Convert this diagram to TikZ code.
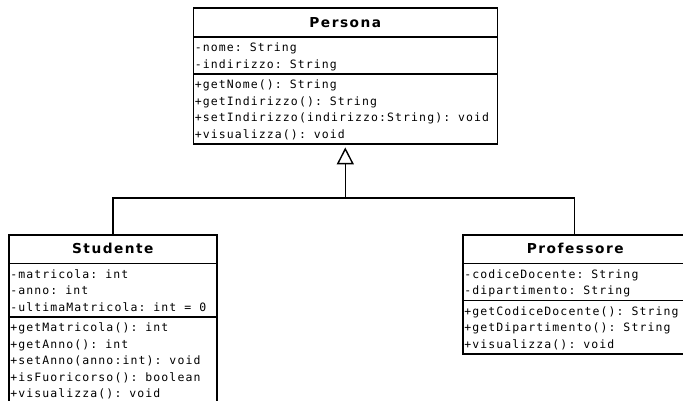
\documentclass[tikz,border=0pt]{standalone}
\usepackage{fontspec}
\setmainfont{DejaVu Sans}
\newfontfamily\umlmono[LetterSpace=9.5]{DejaVu Sans Mono}
\newfontfamily\umltitle[LetterSpace=11]{DejaVu Sans}
\usetikzlibrary{shapes.multipart}
\usetikzlibrary{arrows.meta}

% body font, one blank, one line of a class box, one title
\newcommand{\umlbody}{\umlmono\fontsize{11.5pt}{16.5pt}\selectfont}
\newcommand{\gap}{\hspace*{8pt}}
\newcommand{\ls}{\rule[-3.75pt]{0pt}{16.5pt}}
\newcommand{\ctitle}[1]{\hbox to \hsize{\hss\umltitle\bfseries\fontsize{13.7pt}{16pt}\selectfont\rule[-7.5pt]{0pt}{24.5pt}#1\hss}}

\tikzset{
  umlclass/.style={rectangle split, rectangle split parts=3, draw, line width=1.6pt,
    inner xsep=1.5pt, inner ysep=1.25pt, anchor=north west, align=left, font=\umlbody},
  extends/.style={line width=1.4pt, -{Triangle[open, length=17pt, width=17pt, fill=white]}, shorten >=2.5pt}
}

\begin{document}
\begin{tikzpicture}[x=1pt, y=-1pt]
\useasboundingbox (0,0) rectangle (683,401);

\node[umlclass, text width=301pt] (persona) at (192.5,7.5) {\ctitle{Persona}
 \nodepart{two}\ls-nome:\gap String\\\ls-indirizzo:\gap String
 \nodepart{three}\ls+getNome():\gap String\\\ls+getIndirizzo():\gap String\\
 \ls+setIndirizzo(indirizzo:String):\gap void\\\ls+visualizza():\gap void};

\node[umlclass, text width=205pt] (studente) at (8,234) {\ctitle{Studente}
 \nodepart{two}\ls-matricola:\gap int\\\ls-anno:\gap int\\\ls-ultimaMatricola:\gap int\gap=\gap0
 \nodepart{three}\ls+getMatricola():\gap int\\\ls+getAnno():\gap int\\\ls+setAnno(anno:int):\gap void\\
 \ls+isFuoricorso():\gap boolean\\\ls+visualizza():\gap void};

\node[umlclass, text width=222pt] (professore) at (462,234) {\ctitle{Professore}
 \nodepart{two}\ls-codiceDocente:\gap String\\\ls-dipartimento:\gap String
 \nodepart{three}\ls+getCodiceDocente():\gap String\\\ls+getDipartimento():\gap String\\
 \ls+visualizza():\gap void};

% generalization
\coordinate (bar) at ([yshift=-53pt]persona.south);
\draw[line width=1.4pt] (studente.north) |- (bar) -| ([xshift=-1pt]professore.north);
\draw[extends] (bar) -- (persona.south);
\end{tikzpicture}
\end{document}
